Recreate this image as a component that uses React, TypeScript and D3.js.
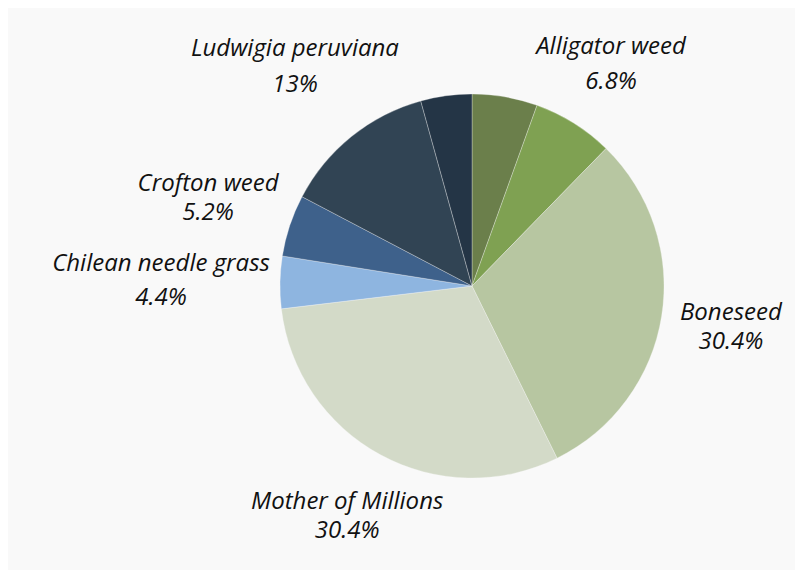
import React, { useEffect, useRef } from "react";
import * as d3 from "d3";

const categories = [
  "",
  "Alligator weed",
  "Boneseed",
  "Mother of Millions",
  "Chilean needle grass",
  "Crofton weed",
  "Ludwigia peruviana",
  "",
];
const values = [5.5, 6.8, 30.4, 30.4, 4.4, 5.2, 13, 4.3];
const percentLabels = ["5.5%", "6.8%", "30.4%", "30.4%", "4.4%", "5.2%", "13%", "4.3%"];
const colors = [
  "#6b7f4b",
  "#7fa152",
  "#b7c6a1",
  "#d3dac8",
  "#8eb5e0",
  "#3e618b",
  "#314454",
  "#243546",
];

const W = 795;
const H = 562;
const CX = 464;
const CY = 278;
const R = 192;
const FONT = 24;
const lineGaps: Record<string, number> = {
  "Alligator weed": 35,
  "Chilean needle grass": 34,
  "Ludwigia peruviana": 36,
};

export default function App() {
  const ref = useRef<SVGSVGElement | null>(null);
  useEffect(() => {
    const svg = d3.select(ref.current);
    svg.selectAll("*").remove();
    svg.append("rect").attr("width", W).attr("height", H).attr("fill", "#f9f9f9");
    const data = categories.map((c, i) => ({ name: c, value: values[i], pct: percentLabels[i], color: colors[i] }));
    const pie = d3.pie<any>().sort(null).value((d) => d.value);
    const arcs = pie(data);
    const arc = d3.arc<any>().innerRadius(0).outerRadius(R);
    const g = svg.append("g").attr("transform", `translate(${CX},${CY})`);
    g.selectAll("path")
      .data(arcs)
      .join("path")
      .attr("d", arc as any)
      .attr("fill", (d: any) => d.data.color)
      .attr("stroke", "#f9f9f9")
      .attr("stroke-width", 0.6)
      .attr("stroke-opacity", 0.5);

    const lg = g.append("g");
    arcs.forEach((a: any) => {
      if (!a.data.name) return;
      const gap = lineGaps[a.data.name] ?? 29;
      const t = lg
        .append("text")
        .attr("text-anchor", "middle")
        .attr("font-family", "'Open Sans', sans-serif")
        .attr("font-style", "italic")
        .attr("font-size", FONT)
        .attr("fill", "#111");
      const t1 = t.append("tspan").text(a.data.name);
      const t2 = t.append("tspan").text(a.data.pct);
      const w = Math.max(
        (t1.node() as any).getComputedTextLength(),
        (t2.node() as any).getComputedTextLength()
      );
      const mid = (a.startAngle + a.endAngle) / 2;
      const ux = Math.sin(mid);
      const uy = -Math.cos(mid);
      let r = R * 1.365;
      let x = 0,
        y = 0;
      for (let k = 0; k < 300; k++) {
        x = ux * r;
        y = uy * r;
        const b1 = y - gap / 2 + 7.5;
        const top = b1 - 17;
        const bottom = b1 + gap + 5;
        const left = x - w / 2;
        const right = x + w / 2;
        const nx = Math.max(left, Math.min(0, right));
        const ny = Math.max(top, Math.min(0, bottom));
        if (Math.hypot(nx, ny) >= R + 10) break;
        r += 1;
      }
      const b1 = y - gap / 2 + 7.5;
      t1.attr("x", x).attr("y", b1);
      t2.attr("x", x).attr("y", b1 + gap);
    });
  }, []);
  return <svg ref={ref} width={W} height={H} style={{ display: "block" }} />;
}
